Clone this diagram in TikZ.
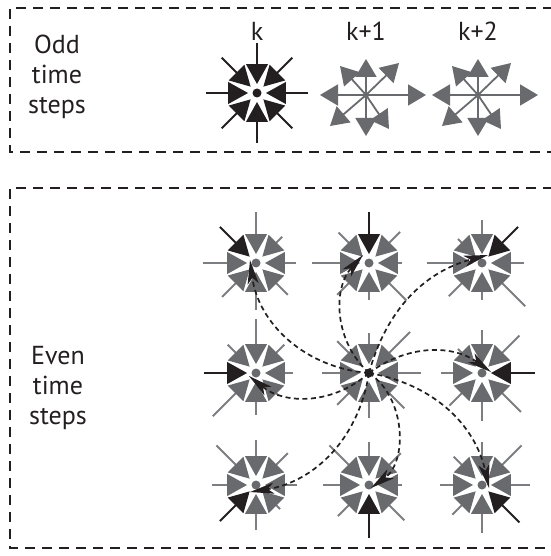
\documentclass[tikz,border=0pt]{standalone}
\usepackage{fontspec}
\setmainfont{PT Sans}
\usetikzlibrary{arrows.meta,calc}
\definecolor{ink}{RGB}{35,31,32}
\definecolor{tri}{RGB}{105,106,109}
\definecolor{spk}{RGB}{125,126,129}
\tikzset{
  frame/.style={line width=1.5pt, dash pattern=on 10pt off 7pt, draw=ink},
  flow/.style={line width=1.7pt, dash pattern=on 5pt off 3.5pt, draw=ink,
    -{Stealth[length=24pt,width=11pt,inset=6pt]}},
  spoke/.style={line width=2pt},
  stream/.style={line width=1.8pt, draw=tri, fill=tri, -{Triangle[length=18pt,width=21pt]}},
  lbl/.style={font=\fontsize{26}{30}\selectfont, text=ink, inner sep=0pt},
}
\newcommand\Rc{31}
\newcommand\ra{9}
% #1 name, #2 x, #3 y, #4 spoke lengths (E,NE,N,NW,W,SW,S,SE), #5 highlighted index,
% #6 spoke colour, #7 triangle colour, #8 dot colour
\newcommand\octcell[8]{%
  \coordinate (#1) at (#2,#3);
  \foreach \L [count=\i from 0] in {#4} {
    \ifnum\i=#5 \def\col{ink}\else\def\col{#6}\fi
    \draw[spoke,draw=\col] ($(#1)+({45*\i}:18)$) -- ($(#1)+({45*\i}:\L)$);
  }
  \foreach \i in {0,...,7} {
    \ifnum\i=#5 \def\col{ink}\else\def\col{#7}\fi
    \fill[\col] ($(#1)+({45*\i-21}:\Rc)$) -- ($(#1)+({45*\i}:\ra)$) -- ($(#1)+({45*\i+21}:\Rc)$) -- cycle;
  }
  \fill[#8] (#1) circle (4.5pt);
}
\begin{document}
\begin{tikzpicture}[x=1pt,y=1pt]
\useasboundingbox (0,0) rectangle (550,-556);

% frames
\draw[frame] (553,-8) -- (10,-8) -- (10,-152) -- (553,-152);
\draw[frame] (553,-188) -- (10,-188) -- (10,-548) -- (553,-548);

% labels
\node[lbl, align=center] (odd) at (57,-77) {Odd\\time\\steps};
\node[lbl, align=center] (even) at (58,-388) {Even\\time\\steps};
\node[lbl, anchor=base] (lk) at (257,-41) {k};
\node[lbl, anchor=base] (lk1) at (366,-41) {k+1};
\node[lbl, anchor=base] (lk2) at (478,-41) {k+2};

% odd step k: collision (all incoming, black)
\octcell{k}{257}{-93}{51,50,50,50,51,50,50,50}{-1}{ink}{ink}{ink}

% odd steps k+1, k+2: streaming outwards
\coordinate (p1) at (366,-95);
\coordinate (p2) at (478,-95);
\foreach \c in {p1,p2} {
  \foreach \dx/\dy in {60/0,33/32,0/36,-26/29,-46/0,-36/-31,0/-41,23/-34}
    \draw[stream] (\c) -- ++(\dx,\dy);
  \fill[tri] (\c) circle (3pt);
}

% even steps: 3x3 lattice
\octcell{TL}{256}{-263}{40,37,51,51,53,48,47,45}{3}{spk}{tri}{tri}
\octcell{TM}{369}{-263}{33,44,51,43,57,45,37,53}{2}{spk}{tri}{tri}
\octcell{TR}{482}{-263}{42,51,43,34,55,47,37,61}{1}{spk}{tri}{tri}
\octcell{ML}{256}{-373}{37,40,54,40,52,61,42,32}{4}{spk}{tri}{tri}
\octcell{C}{369}{-373}{52,58,40,45,47,45,45,50}{-1}{spk}{tri}{ink}
\octcell{MR}{482}{-373}{53,53,43,34,41,46,48,55}{0}{spk}{tri}{tri}
\octcell{BL}{256}{-485}{41,45,45,56,44,51,45,34}{5}{spk}{tri}{tri}
\octcell{BM}{369}{-485}{33,45,43,56,46,44,53,50}{6}{spk}{tri}{tri}
\octcell{BR}{482}{-485}{48,56,43,40,42,42,48,53}{7}{spk}{tri}{tri}

% arrow tip targets
\coordinate (tTL) at (250,-260);
\coordinate (tTM) at (363,-255);
\coordinate (tTR) at (488,-255);
\coordinate (tML) at (249,-376);
\coordinate (tMR) at (491,-372);
\coordinate (tBL) at (250,-492);
\coordinate (tBM) at (371,-488);
\coordinate (tBR) at (489,-488);

% dashed streaming paths
\draw[flow] (C) to[bend left=39] (tTL);
\draw[flow] (C) to[bend left=45] (tTM);
\draw[flow] (C) to[bend left=30] (tTR);
\draw[flow] (C) to[bend left=40] (tML);
\draw[flow] (C) to[bend left=36] (tMR);
\draw[flow] (C) to[bend left=36] (tBL);
\draw[flow] (C) to[bend left=55] (tBM);
\draw[flow] (C) to[bend left=34] (tBR);
\end{tikzpicture}
\end{document}
